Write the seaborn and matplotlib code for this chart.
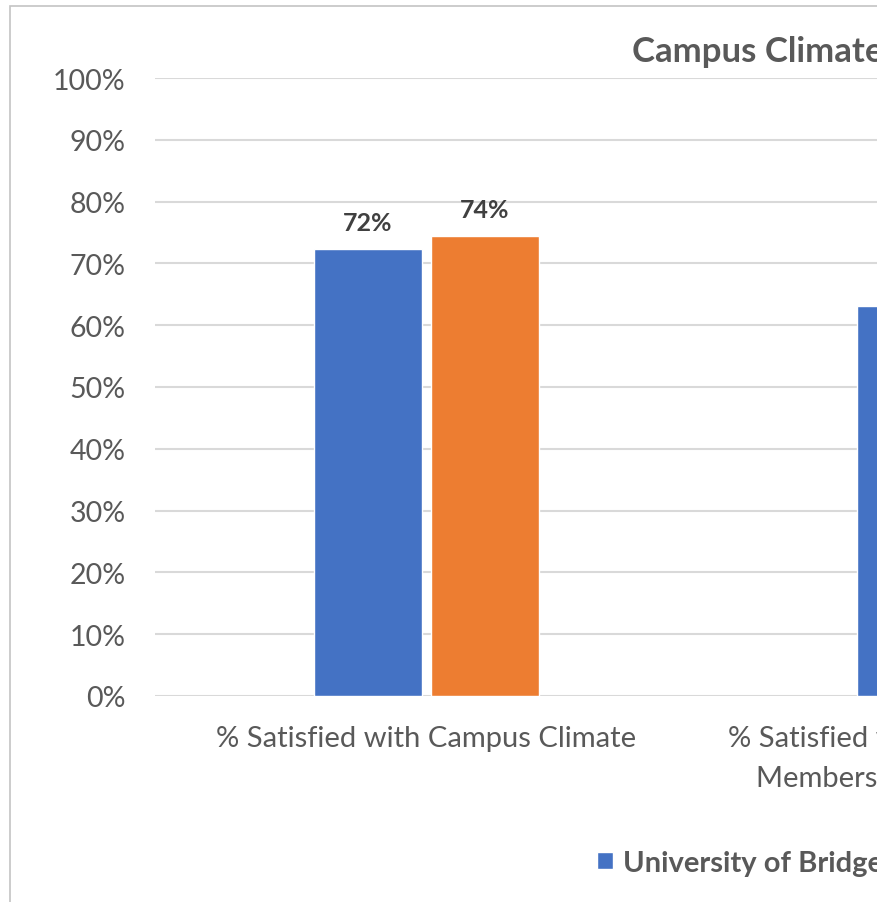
import numpy as np
import pandas as pd
import seaborn as sns
import matplotlib.pyplot as plt
from matplotlib.patches import Rectangle
from matplotlib.ticker import PercentFormatter

#donnees
categories = ['% Satisfied with Campus Climate',
              '% Satisfied with Support from Faculty\nMembers and Academic Advisors']
groupes = ['University of Bridgeport', 'National']
valeurs_ub = [0.723, 0.631]
valeurs_nat = [0.744, np.nan]  #2e barre hors cadre

titre = 'Campus Climate'
bleu, orange = '#4472C4', '#ED7D31'
gris_txt = '#595959'


def make_df():
    df = pd.DataFrame({
        'categorie': categories * 2,
        'groupe': [groupes[0]] * 2 + [groupes[1]] * 2,
        'valeur': valeurs_ub + valeurs_nat})
    return df


def graph(df):
    sns.set_theme(style='white')
    plt.rcParams['font.family'] = ['Lato', 'DejaVu Sans']

    fig = plt.figure(figsize=(8.85, 9.03), dpi=100)
    #axes plus larges que la figure : le graphique est coupe a droite
    ax = fig.add_axes([155 / 885, 206 / 903, 1086 / 885, 618 / 903])

    sns.barplot(data=df, x='categorie', y='valeur', hue='groupe',
                palette=[bleu, orange], width=0.431, gap=0.085,
                saturation=1, ax=ax, errorbar=None)

    ax.set_ylim(0, 1)
    ax.set_xlim(-0.5, 1.5)
    ax.set_yticks(np.arange(0, 1.01, 0.1))
    ax.yaxis.set_major_formatter(PercentFormatter(1, decimals=0))
    ax.grid(axis='y', color='#D9D9D9', linewidth=1.5)
    ax.set_axisbelow(True)
    for s in ax.spines.values():
        s.set_visible(False)
    ax.tick_params(axis='y', length=0, pad=21, labelsize=20.5, labelcolor=gris_txt)
    ax.tick_params(axis='x', length=0, pad=21, labelsize=21, labelcolor=gris_txt)
    for lab in ax.get_xticklabels():
        lab.set_linespacing(1.65)
    ax.set_xlabel('')
    ax.set_ylabel('')

    #etiquettes de donnees
    for cont in ax.containers:
        ax.bar_label(cont, fmt='{:.0%}', padding=11, fontsize=18,
                     fontweight='bold', color='#404040')

    #legende en bas
    sns.move_legend(ax, 'center left', bbox_to_anchor=(597 / 885, 1 - 864 / 903),
                    bbox_transform=fig.transFigure, ncol=2, frameon=False, title=None,
                    fontsize=21, handlelength=0.54, handleheight=0.54,
                    handletextpad=0.36, borderpad=0, borderaxespad=0, columnspacing=1.5)
    for t in ax.get_legend().get_texts():
        t.set_color(gris_txt)
        t.set_fontweight('bold')

    #titre
    fig.text(632 / 885, 1 - 52 / 903, titre, ha='left', va='center',
             fontsize=25, fontweight='bold', color=gris_txt)

    #cadre du graphique
    fig.add_artist(Rectangle((10 / 885, -0.1), 2, 1.1 - 7 / 903,
                             transform=fig.transFigure, fill=False,
                             edgecolor='#C4C4C4', linewidth=1.2, zorder=5))
    #bande blanche a droite
    fig.add_artist(Rectangle((877 / 885, 0), 1, 1, transform=fig.transFigure,
                             facecolor='white', edgecolor='none', zorder=10))

    fig.savefig('out.png', dpi=100)


df = make_df()
graph(df)
